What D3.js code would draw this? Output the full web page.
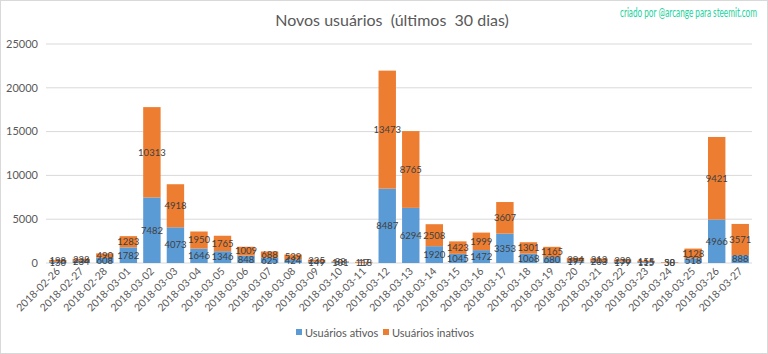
<!DOCTYPE html>
<html><head><meta charset="utf-8">
<script src="https://cdn.jsdelivr.net/npm/d3@7"></script>
<style>body{margin:0;background:#fff;font-family:Lato,"Open Sans",sans-serif;} text{white-space:pre;}</style>
</head><body><svg id="c" width="768" height="354"></svg>
<script>
const categories = ["2018-02-26","2018-02-27","2018-02-28","2018-03-01","2018-03-02","2018-03-03","2018-03-04","2018-03-05","2018-03-06","2018-03-07","2018-03-08","2018-03-09","2018-03-10","2018-03-11","2018-03-12","2018-03-13","2018-03-14","2018-03-15","2018-03-16","2018-03-17","2018-03-18","2018-03-19","2018-03-20","2018-03-21","2018-03-22","2018-03-23","2018-03-24","2018-03-25","2018-03-26","2018-03-27"];
const ativos = [130,234,608,1782,7482,4073,1646,1346,848,625,424,149,101,17,8487,6294,1920,1045,1472,3353,1068,680,197,203,179,115,30,518,4966,888];
const inativos = [198,238,490,1283,10313,4918,1950,1765,1009,688,539,235,88,118,13473,8765,2508,1423,1999,3607,1301,1165,394,313,230,155,58,1128,9421,3571];
const yTicks = [0,5000,10000,15000,20000,25000];
const seriesNames = ["Usuários ativos","Usuários inativos"];
const colors = ["#5B9BD5","#ED7D31"];

const svg = d3.select("#c");
svg.append("rect").attr("x",0.5).attr("y",0.5).attr("width",767).attr("height",353)
  .attr("fill","#fff").attr("stroke","#d9d9d9");

const x = d3.scaleBand().domain(categories).range([46,752]).paddingInner(0.26).paddingOuter(0.13);
const y = d3.scaleLinear().domain([0,25000]).range([263,44]);

svg.append("g").selectAll("line").data(yTicks).join("line")
  .attr("x1",46).attr("x2",752).attr("y1",d=>y(d)).attr("y2",d=>y(d))
  .attr("stroke","#d9d9d9").attr("stroke-width",1);
svg.append("g").selectAll("text").data(yTicks).join("text")
  .attr("x",38).attr("y",d=>y(d)).attr("dy","0.35em").attr("text-anchor","end")
  .attr("font-size",11).attr("fill","#595959").text(d=>d);

const rows = categories.map((c,i)=>({cat:c, a:ativos[i], b:inativos[i]}));
const stack = d3.stack().keys(["a","b"])(rows);

const g = svg.append("g");
stack.forEach((s,si)=>{
  g.append("g").selectAll("rect").data(s).join("rect")
    .attr("x",d=>x(d.data.cat)).attr("width",x.bandwidth())
    .attr("y",d=>y(d[1])).attr("height",d=>y(d[0])-y(d[1]))
    .attr("fill",colors[si]);
});
stack.forEach((s,si)=>{
  g.append("g").selectAll("text").data(s).join("text")
    .attr("x",d=>x(d.data.cat)+x.bandwidth()/2)
    .attr("y",d=>(y(d[0])+y(d[1]))/2).attr("dy","0.35em")
    .attr("text-anchor","middle").attr("font-size",9.5).attr("fill","#404040")
    .text(d=>d[1]-d[0]);
});

svg.append("g").selectAll("text").data(categories).join("text")
  .attr("transform",d=>`translate(${x(d)+x.bandwidth()/2+3},${272}) rotate(-45)`)
  .attr("text-anchor","end").attr("font-size",10.5).attr("fill","#595959").text(d=>d);

svg.append("text").attr("x",392).attr("y",26).attr("text-anchor","middle")
  .attr("font-size",16).attr("fill","#595959").text("Novos usuários  (últimos  30 dias)");
svg.append("text").attr("x",620).attr("y",17).attr("text-anchor","start")
  .attr("font-size",12.5).attr("fill","#1fd1a0")
  .attr("textLength",137).attr("lengthAdjust","spacingAndGlyphs")
  .text("criado por @arcange para steemit.com");

const leg = svg.append("g").attr("transform","translate(296,333)");
const lx = [0,87];
seriesNames.forEach((n,i)=>{
  leg.append("rect").attr("x",lx[i]).attr("y",-4).attr("width",6).attr("height",6).attr("fill",colors[i]);
  leg.append("text").attr("x",lx[i]+9).attr("y",0).attr("dy","0.35em").attr("font-size",11)
    .attr("fill","#595959").text(n);
});
</script></body></html>
